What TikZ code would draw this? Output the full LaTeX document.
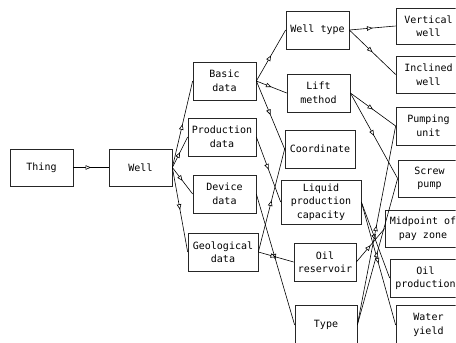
\documentclass[tikz,border=0pt]{standalone}
\usepackage{fontspec}
\setmainfont{DejaVu Sans Mono}
\usetikzlibrary{arrows.meta,decorations.markings}

\tikzset{
  box/.style={draw=black!85, line width=0.7pt, fill=white, align=center,
    inner sep=1pt, font=\fontsize{10}{13.5}\selectfont},
  link/.style={draw=black, line width=0.6pt, postaction={decorate},
    decoration={markings, mark=at position 0.5 with
      {\arrow{Triangle[fill=white, length=5.5pt, width=4.5pt, line width=0.6pt]}}}}
}

\begin{document}
\begin{tikzpicture}[x=1pt, y=-1pt]
\useasboundingbox (0,0) rectangle (456,343);
\clip (0,0) rectangle (455.5,343);

% first column
\node[box, minimum width=63pt, minimum height=37pt] (thing) at (41.5,167.5) {Thing};
\node[box, minimum width=63pt, minimum height=37pt] (well) at (140.5,167.5) {Well};

% data groups
\node[box, minimum width=63pt, minimum height=38pt] (basic) at (224.5,81) {Basic\\data};
\node[box, minimum width=68pt, minimum height=38pt] (prod) at (222,137) {Production\\data};
\node[box, minimum width=63pt, minimum height=38pt] (dev) at (224.5,194) {Device\\data};
\node[box, minimum width=70pt, minimum height=38pt] (geo) at (223,252) {Geological\\data};

% attributes
\node[box, minimum width=63pt, minimum height=38pt] (wtype) at (317.5,30) {Well type};
\node[box, minimum width=63pt, minimum height=38pt] (lift) at (318.5,93) {Lift\\method};
\node[box, minimum width=70pt, minimum height=38pt] (coord) at (320,149) {Coordinate};
\node[box, minimum width=80pt, minimum height=44pt] (liquid) at (321,202) {Liquid\\production\\capacity};
\node[box, minimum width=62pt, minimum height=38pt] (oilres) at (325,262) {Oil\\reservoir};
\node[box, minimum width=62pt, minimum height=40pt] (type) at (326,325) {Type};

% values (their right sides run past the edge)
\node[box, minimum width=65pt, minimum height=36pt] (vert) at (428.5,26) {Vertical\\well};
\node[box, minimum width=65pt, minimum height=37pt] (incl) at (428.5,74.5) {Inclined\\well};
\node[box, minimum width=65pt, minimum height=38pt] (pump) at (428.5,126) {Pumping\\unit};
\node[box, minimum width=63pt, minimum height=37pt] (screw) at (429.5,178.5) {Screw\\pump};
\node[box, minimum width=76pt, minimum height=37pt] (midp) at (423,228.5) {Midpoint of\\pay zone};
\node[box, minimum width=71pt, minimum height=38pt] (oilprod) at (425.5,278) {Oil\\production};
\node[box, minimum width=65pt, minimum height=40pt] (water) at (428.5,325) {Water\\yield};

% connectors
\path[link] (thing.east) -- (well.west);
\path[link] (well.east) -- (basic.west);
\path[link] (well.east) -- (prod.west);
\path[link] (well.east) -- (dev.west);
\path[link] (well.east) -- (geo.west);

\path[link] (basic.east) -- (wtype.west);
\path[link] (basic.east) -- (lift.west);
\path[link] (basic.east) -- (coord.west);
\path[link] (prod.east) -- (liquid.west);
\path[link] (dev.east) -- (type.west);
\path[link] (geo.east) -- (coord.west);
\path[link] (geo.east) -- (oilres.west);

\path[link] (wtype.east) -- (vert.west);
\path[link] (wtype.east) -- (incl.west);
\path[link] (lift.east) -- (pump.west);
\path[link] (lift.east) -- (screw.west);
\path[link] (liquid.east) -- (oilprod.west);
\path[link] (liquid.east) -- (water.west);
\path[link] (oilres.east) -- (midp.west);
\path[link] (type.east) -- (pump.west);
\path[link] (type.east) -- (screw.west);
\end{tikzpicture}
\end{document}
